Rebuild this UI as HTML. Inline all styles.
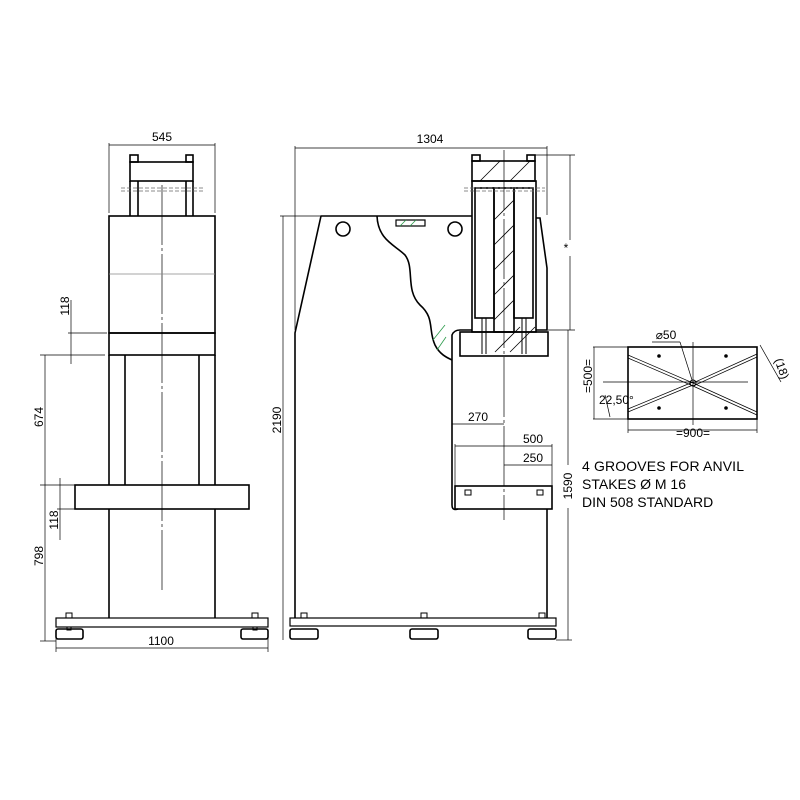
<!DOCTYPE html>
<html><head><meta charset="utf-8"><style>body{margin:0;background:#fff}svg{display:block}</style></head><body>
<svg width="800" height="800" viewBox="0 0 800 800" xmlns="http://www.w3.org/2000/svg" font-family="Liberation Sans, sans-serif">
<rect width="800" height="800" fill="#fff"/>
<g fill="none" stroke="#000" stroke-width="1.6">
<rect x="130" y="155" width="8" height="7"/><rect x="186" y="155" width="7" height="7"/>
<rect x="130" y="162" width="63" height="19"/>
<line x1="130" y1="181" x2="130" y2="216"/><line x1="138" y1="181" x2="138" y2="216"/>
<line x1="186" y1="181" x2="186" y2="216"/><line x1="193" y1="181" x2="193" y2="216"/>
<rect x="109" y="216" width="106" height="117"/>
<rect x="109" y="333" width="106" height="22"/>
<line x1="109" y1="355" x2="109" y2="485"/><line x1="215" y1="355" x2="215" y2="485"/>
<line x1="125" y1="355" x2="125" y2="485"/><line x1="199" y1="355" x2="199" y2="485"/>
<rect x="75" y="485" width="174" height="24"/>
<line x1="109" y1="509" x2="109" y2="618"/><line x1="215" y1="509" x2="215" y2="618"/>
<rect x="56" y="618" width="212" height="9" stroke-width="1.2"/>
<rect x="56" y="629" width="27" height="10" rx="2"/><rect x="241" y="629" width="27" height="10" rx="2"/>
<rect x="66" y="613" width="6" height="5" stroke-width="1"/><rect x="252" y="613" width="6" height="5" stroke-width="1"/>
<rect x="67" y="627" width="4" height="3" stroke-width="1"/><rect x="253" y="627" width="4" height="3" stroke-width="1"/>
<path d="M295 618 L295 333 L321 216 L472 216"/>
<circle cx="343" cy="229" r="7"/><circle cx="455" cy="229" r="7"/>
<rect x="396" y="220" width="29" height="6" stroke-width="1.2"/>
<path d="M377 216 C378 240 395 245 405 255 C415 268 405 290 420 305 C435 318 428 330 435 345 C440 355 448 358 452 360"/>
<path d="M452 360 L452 335 Q454 330 460 330 L472 330"/>
<path d="M452 360 L452 505 Q452 511 458 509"/>
<rect x="455" y="486" width="97" height="23"/>
<line x1="547" y1="509" x2="547" y2="618"/>
<rect x="290" y="618" width="266" height="8" stroke-width="1.2"/>
<rect x="290" y="629" width="28" height="10" rx="2"/><rect x="410" y="629" width="28" height="10" rx="2"/><rect x="528" y="629" width="28" height="10" rx="2"/>
<rect x="301" y="613" width="6" height="5" stroke-width="1"/><rect x="421" y="613" width="6" height="5" stroke-width="1"/><rect x="539" y="613" width="6" height="5" stroke-width="1"/>
<rect x="465" y="490" width="6" height="5" stroke-width="1"/><rect x="537" y="490" width="6" height="5" stroke-width="1"/>
<rect x="472" y="155" width="8" height="6"/><rect x="527" y="155" width="8" height="6"/>
<rect x="472" y="161" width="63" height="20"/>
<rect x="472" y="181" width="64" height="151"/>
<rect x="475" y="188" width="19" height="130"/><rect x="514" y="188" width="19" height="130"/>
<rect x="494" y="188" width="20" height="144"/>
<path d="M536 218 L540 218 L547 268 L547 330 L536 330"/>
<rect x="460" y="332" width="88" height="24"/>
<line x1="482" y1="318" x2="482" y2="354" stroke-width="1"/><line x1="486" y1="318" x2="486" y2="354" stroke-width="1"/>
<line x1="522" y1="318" x2="522" y2="354" stroke-width="1"/><line x1="526" y1="318" x2="526" y2="354" stroke-width="1"/>
<rect x="628" y="347" width="129" height="72"/>
</g>
<g stroke="#000" stroke-width="0.8">
<line x1="480" y1="181" x2="500" y2="161"/><line x1="510" y1="181" x2="530" y2="161"/>
<line x1="494" y1="220" x2="514" y2="200"/><line x1="494" y1="245" x2="514" y2="225"/><line x1="494" y1="270" x2="514" y2="250"/><line x1="494" y1="295" x2="514" y2="275"/><line x1="494" y1="320" x2="514" y2="300"/>
<line x1="495" y1="352" x2="520" y2="327"/><line x1="510" y1="352" x2="535" y2="327"/>
</g>
<g stroke="#2a9a4a" stroke-width="0.8">
<line x1="433" y1="340" x2="445" y2="325"/><line x1="437" y1="350" x2="446" y2="337"/><line x1="400" y1="226" x2="406" y2="220"/><line x1="410" y1="226" x2="416" y2="220"/>
</g>
<g stroke="#000" stroke-width="0.7" fill="none">
<line x1="162" y1="185" x2="162" y2="590" stroke-dasharray="60,3,3,3"/>
<line x1="109" y1="274" x2="215" y2="274" stroke="#888"/>
<line x1="121" y1="188" x2="203" y2="188" stroke-dasharray="4,2" stroke="#666"/><line x1="121" y1="191" x2="203" y2="191" stroke-dasharray="4,2" stroke="#666"/>
<line x1="464" y1="188" x2="545" y2="188" stroke-dasharray="4,2" stroke="#666"/><line x1="464" y1="191" x2="545" y2="191" stroke-dasharray="4,2" stroke="#666"/>
<line x1="504" y1="150" x2="504" y2="520" stroke-dasharray="60,3,3,3"/>
<line x1="109" y1="145" x2="215" y2="145"/><line x1="109" y1="143" x2="109" y2="213"/><line x1="215" y1="143" x2="215" y2="213"/>
<line x1="56" y1="648" x2="268" y2="648"/><line x1="56" y1="630" x2="56" y2="652"/><line x1="268" y1="630" x2="268" y2="652"/>
<line x1="45" y1="355" x2="45" y2="641"/><line x1="40" y1="355" x2="105" y2="355"/><line x1="40" y1="485" x2="75" y2="485"/><line x1="40" y1="641" x2="56" y2="641"/>
<line x1="71" y1="300" x2="71" y2="364"/><line x1="68" y1="333" x2="107" y2="333"/>
<line x1="60" y1="478" x2="60" y2="540"/><line x1="57" y1="509" x2="75" y2="509"/>
<line x1="295" y1="148" x2="547" y2="148"/><line x1="295" y1="146" x2="295" y2="330"/><line x1="547" y1="146" x2="547" y2="215"/>
<line x1="283" y1="216" x2="283" y2="640"/><line x1="280" y1="216" x2="320" y2="216"/>
<line x1="570" y1="155" x2="570" y2="240"/><line x1="570" y1="256" x2="570" y2="330"/><line x1="535" y1="155" x2="575" y2="155"/><line x1="548" y1="330" x2="575" y2="330"/>
<line x1="568" y1="330" x2="568" y2="465"/><line x1="568" y1="508" x2="568" y2="640"/><line x1="556" y1="640" x2="572" y2="640"/>
<line x1="452" y1="424" x2="504" y2="424"/><line x1="455" y1="446" x2="552" y2="446"/><line x1="504" y1="465" x2="552" y2="465"/>
<line x1="455" y1="444" x2="455" y2="486"/><line x1="552" y1="444" x2="552" y2="486"/>
<line x1="693" y1="342" x2="693" y2="425"/><line x1="603" y1="382" x2="748" y2="382"/>
<line x1="628" y1="355" x2="693" y2="383"/><line x1="628" y1="358" x2="693" y2="386"/>
<line x1="757" y1="412" x2="693" y2="383"/><line x1="757" y1="415" x2="693" y2="386"/>
<line x1="757" y1="354" x2="693" y2="383"/><line x1="757" y1="357" x2="693" y2="386"/>
<line x1="628" y1="409" x2="693" y2="382"/><line x1="628" y1="412" x2="693" y2="385"/>
<line x1="593" y1="347" x2="628" y2="347"/><line x1="593" y1="419" x2="628" y2="419"/><line x1="594" y1="347" x2="594" y2="419"/>
<line x1="628" y1="430" x2="757" y2="430"/><line x1="628" y1="419" x2="628" y2="433"/><line x1="757" y1="419" x2="757" y2="433"/>
<line x1="652" y1="342" x2="680" y2="342"/><line x1="680" y1="342" x2="692" y2="380"/>
<line x1="760" y1="345" x2="781" y2="382"/><line x1="610" y1="417" x2="605" y2="395"/>
</g>
<circle cx="693" cy="383" r="3" fill="none" stroke="#000"/>
<g fill="#000"><circle cx="659" cy="356" r="1.8"/><circle cx="726" cy="356" r="1.8"/><circle cx="659" cy="408" r="1.8"/><circle cx="726" cy="408" r="1.8"/></g>
<g fill="#000" font-size="12">
<text x="162" y="141" text-anchor="middle">545</text>
<text x="161" y="645" text-anchor="middle">1100</text>
<text x="430" y="143" text-anchor="middle">1304</text>
<text x="478" y="421" text-anchor="middle">270</text>
<text x="533" y="443" text-anchor="middle">500</text>
<text x="533" y="462" text-anchor="middle">250</text>
<text x="566" y="252" text-anchor="middle">*</text>
<text transform="translate(43,417) rotate(-90)" text-anchor="middle">674</text>
<text transform="translate(43,556) rotate(-90)" text-anchor="middle">798</text>
<text transform="translate(69,306) rotate(-90)" text-anchor="middle">118</text>
<text transform="translate(58,520) rotate(-90)" text-anchor="middle">118</text>
<text transform="translate(281,420) rotate(-90)" text-anchor="middle">2190</text>
<text transform="translate(572,486) rotate(-90)" text-anchor="middle">1590</text>
<text transform="translate(592,376) rotate(-90)" text-anchor="middle">=500=</text>
<text transform="translate(778,370) rotate(70)" text-anchor="middle">(18)</text>
<text x="693" y="437" text-anchor="middle">=900=</text>
<text x="666" y="339" text-anchor="middle">⌀50</text>
<text x="599" y="404">22,50°</text>
<g font-size="14"><text x="582" y="471" textLength="162">4 GROOVES FOR ANVIL</text><text x="582" y="489">STAKES Ø M 16</text><text x="582" y="507">DIN 508 STANDARD</text></g>
</g>
</svg>
</body></html>
